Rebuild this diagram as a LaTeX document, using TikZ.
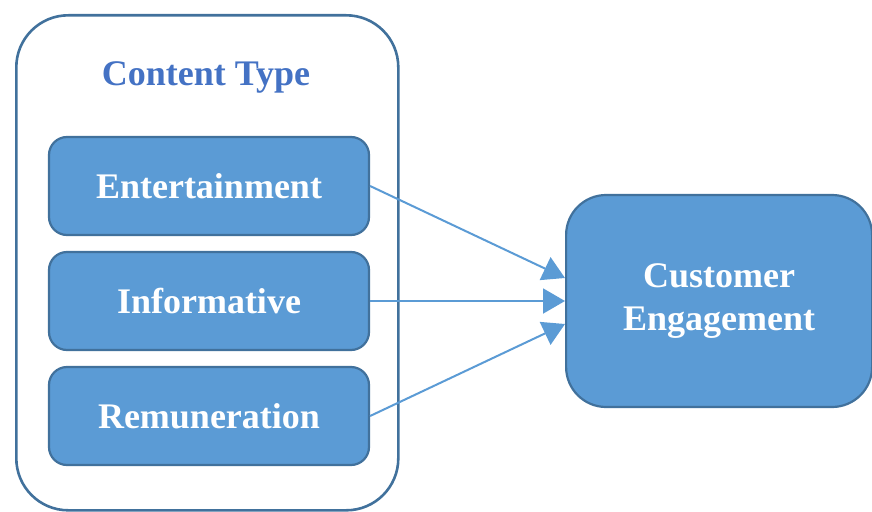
\documentclass[tikz,border=0pt]{standalone}
\usepackage{fontspec}
\setmainfont{Liberation Serif}
\usetikzlibrary{arrows.meta,positioning,calc}
\definecolor{boxfill}{RGB}{91,155,213}
\definecolor{boxline}{RGB}{65,113,156}
\definecolor{titleblue}{RGB}{68,114,196}

\begin{document}
\begin{tikzpicture}[
  x=1pt, y=-1pt,
  group options/.style = {draw=boxline, line width=2.6pt, rounded corners=52pt, fill=white},
  type options/.style = {draw=boxline, line width=2.2pt, fill=boxfill, rounded corners=18pt,
    minimum width=320pt, minimum height=98pt, text=white,
    font=\fontsize{36}{43}\selectfont\bfseries},
  link options/.style = {draw=boxfill, line width=2pt, -{Triangle[length=22pt,width=25pt]}},
  ]
  \useasboundingbox (0,0) rectangle (872,511);
  % container with the three content types
  \node (content) [group options, minimum width=382pt, minimum height=495pt, anchor=north west] at (15,14) {};
  \node (title) [text=titleblue, font=\fontsize{36}{43}\selectfont\bfseries] at (206,77) {Content Type};
  \node (ent) [type options] at (209,186) {Entertainment};
  \node (inf) [type options] at (209,301) {Informative};
  \node (rem) [type options] at (209,416) {Remuneration};
  % outcome
  \node (eng) [type options, minimum width=306pt, minimum height=212pt, rounded corners=40pt,
    align=center, anchor=west] at (565,301) {Customer\\Engagement};
  \draw[link options] (ent.east) -- ($(eng.west)+(0,-23)$);
  \draw[link options] (inf.east) -- (eng.west);
  \draw[link options] (rem.east) -- ($(eng.west)+(0,23)$);
\end{tikzpicture}
\end{document}
